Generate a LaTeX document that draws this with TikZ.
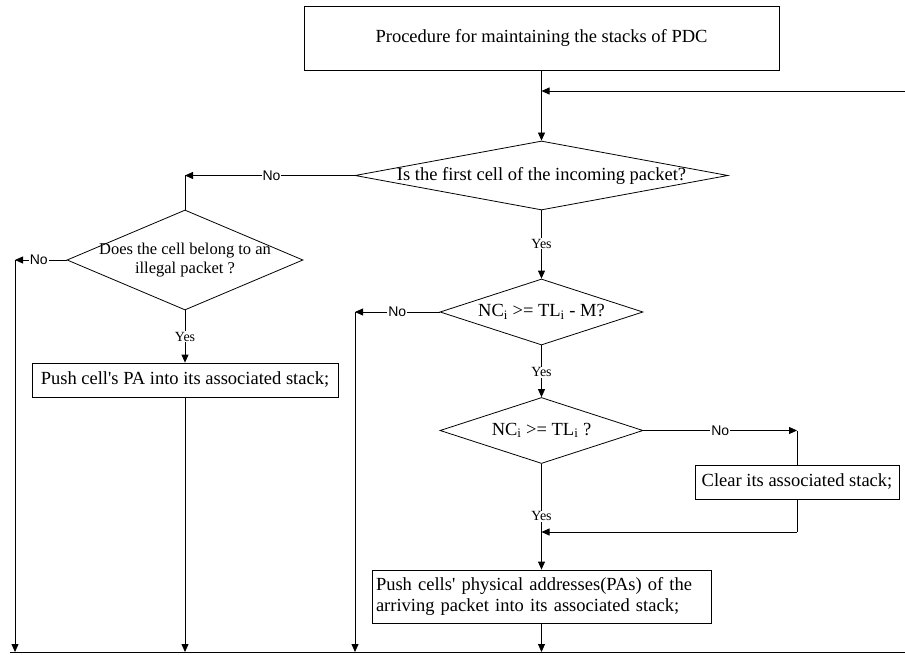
\documentclass[tikz,border=0pt]{standalone}
\usepackage{fontspec}
\setmainfont{Liberation Serif}
\setsansfont{Liberation Sans}
\usetikzlibrary{shapes.geometric,arrows.meta}

\tikzset{
  flowline/.style={draw, line width=0.8pt, -{Triangle[length=8pt,width=7pt]}},
  plainline/.style={draw, line width=0.8pt},
  procbox/.style={draw, line width=0.8pt, rectangle, inner sep=3pt, font=\fontsize{18.5}{21}\selectfont},
  decision/.style={draw, line width=0.8pt, diamond, inner sep=0pt},
  decisiontext/.style={font=\fontsize{18.5}{21}\selectfont, align=center},
  nolab/.style={fill=white, inner sep=1pt, font=\sffamily\fontsize{14}{16}\selectfont},
  yeslab/.style={fill=white, inner sep=1pt, font=\fontsize{14}{16}\selectfont},
}

\begin{document}
\begin{tikzpicture}[x=1pt, y=-1pt]
\useasboundingbox (0,0) rectangle (905,655);

% boxes and decisions
\node[procbox, minimum width=475pt, minimum height=64pt] (title) at (541.5,38) {Procedure for maintaining the stacks of PDC};
\node[decision, minimum width=373pt, minimum height=69pt, label={[decisiontext]center:Is the first cell of the incoming packet?}] (firstcell) at (541.5,175.5) {};
\node[decision, minimum width=236pt, minimum height=100pt, label={[decisiontext, font=\fontsize{16.5}{19}\selectfont]center:Does the cell belong to an\\illegal packet ?}] (illegal) at (185,260) {};
\node[procbox, minimum width=306pt, minimum height=34pt] (pushpa) at (185,380) {Push cell\textquotesingle s PA into its associated stack;};
\node[decision, minimum width=203pt, minimum height=66pt, label={[decisiontext]center:NC\textsubscript{i} >= TL\textsubscript{i} - M?}] (thrm) at (541.5,312) {};
\node[decision, minimum width=203pt, minimum height=66pt, label={[decisiontext]center:NC\textsubscript{i} >= TL\textsubscript{i} ?}] (thr) at (541.5,430.5) {};
\node[procbox, minimum width=204pt, minimum height=34pt] (clear) at (797,482) {Clear its associated stack;};
\node[procbox, text width=331pt, inner xsep=4pt, minimum height=53pt, align=left] (pushall) at (541.5,596.5) {Push cells\textquotesingle{} physical addresses(PAs) of the\\arriving packet into its associated stack;};

% corner points
\coordinate (loopin) at (905,91);
\coordinate (loopjoin) at (541.5,91);
\coordinate (nofirst) at (185,175.5);
\coordinate (noillegal) at (15,260);
\coordinate (nothrm) at (355,312);
\coordinate (nothr) at (797,430.5);
\coordinate (clearturn) at (797,532);
\coordinate (clearjoin) at (541.5,532);
\coordinate (busL) at (10,652);
\coordinate (busR) at (905,652);

% connectors
\draw[plainline] (title.south) -- (loopjoin);
\draw[flowline] (loopin) -- (loopjoin);
\draw[flowline] (loopjoin) -- (firstcell.north);
\draw[flowline] (firstcell.west) -- node[nolab, pos=0.49]{No} (nofirst);
\draw[plainline] (nofirst) -- (illegal.north);
\draw[flowline] (firstcell.south) -- node[yeslab, pos=0.49]{Yes} (thrm.north);
\draw[flowline] (illegal.west) -- node[nolab, pos=0.54]{No} (noillegal);
\draw[flowline] (noillegal) -- (noillegal |- busL);
\draw[flowline] (illegal.south) -- node[yeslab]{Yes} (pushpa.north);
\draw[flowline] (pushpa.south) -- (pushpa.south |- busL);
\draw[flowline] (thrm.west) -- node[nolab]{No} (nothrm);
\draw[flowline] (nothrm) -- (nothrm |- busL);
\draw[flowline] (thrm.south) -- node[yeslab, pos=0.52]{Yes} (thr.north);
\draw[flowline] (thr.east) -- node[nolab]{No} (nothr);
\draw[plainline] (nothr) -- (clear.north);
\draw[plainline] (clear.south) -- (clearturn);
\draw[flowline] (clearturn) -- (clearjoin);
\draw[plainline] (thr.south) -- node[yeslab, pos=0.77]{Yes} (clearjoin);
\draw[flowline] (clearjoin) -- (pushall.north);
\draw[flowline] (pushall.south) -- (pushall.south |- busL);
\draw[plainline] (busL) -- (busR);
\end{tikzpicture}
\end{document}
